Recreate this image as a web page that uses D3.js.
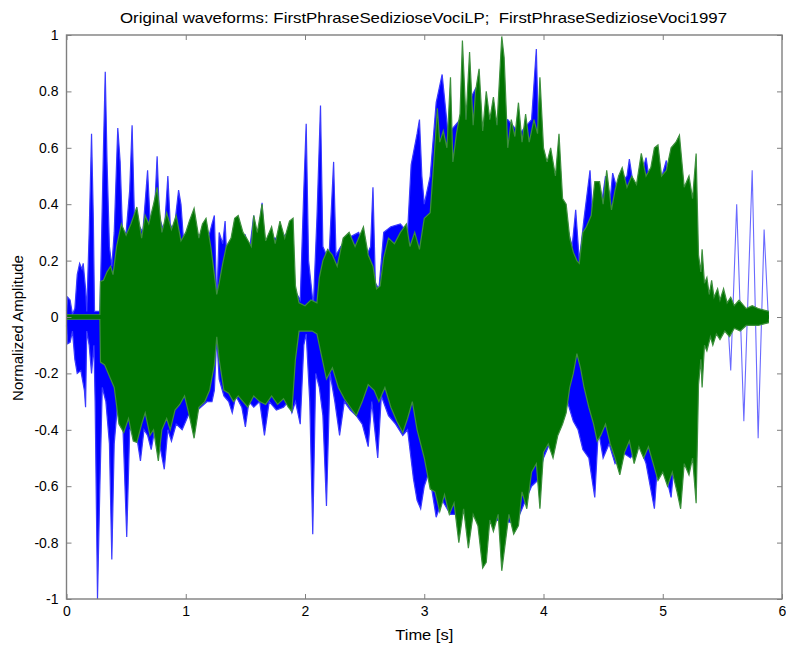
<!DOCTYPE html>
<html><head><meta charset="utf-8">
<script src="https://cdn.jsdelivr.net/npm/d3@7"></script>
<style>body{margin:0;background:#fff}svg{display:block}text{font-family:"Liberation Sans",Arial,sans-serif;fill:#000;white-space:pre}</style>
</head><body>
<svg id="c" width="786" height="646"></svg>
<script>
// ---- data (time in s, normalized amplitude) ----
const xTicks = [0,1,2,3,4,5,6];
const yTicks = [-1,-0.8,-0.6,-0.4,-0.2,0,0.2,0.4,0.6,0.8,1];
const titleText = "Original waveforms: FirstPhraseSedizioseVociLP;  FirstPhraseSedizioseVoci1997";
const xLabel = "Time [s]";
const yLabel = "Normalized Amplitude";

// LP recording (blue): upper and lower envelopes
const blueTop = [[0.00,0.02],[0.01,0.07],[0.03,0.06],[0.05,0.01],[0.07,0.03],[0.09,0.15],[0.11,0.19],[0.13,0.17],[0.14,0.19],[0.16,0.10],[0.17,0.02],[0.19,0.30],[0.21,0.65],[0.225,0.35],[0.235,0.02],[0.28,0.02],[0.29,0.20],[0.31,0.60],[0.325,0.87],[0.34,0.55],[0.36,0.25],[0.38,0.18],[0.40,0.30],[0.43,0.67],[0.45,0.55],[0.47,0.30],[0.50,0.30],[0.53,0.45],[0.55,0.68],[0.57,0.35],[0.60,0.33],[0.64,0.30],[0.68,0.52],[0.70,0.35],[0.73,0.30],[0.76,0.57],[0.78,0.35],[0.82,0.30],[0.85,0.50],[0.87,0.33],[0.90,0.30],[0.94,0.45],[0.96,0.40],[0.98,0.28],[1.05,0.30],[1.12,0.29],[1.19,0.28],[1.22,0.33],[1.24,0.36],[1.26,0.05],[1.28,0.30],[1.31,0.26],[1.33,0.34],[1.35,0.15],[1.39,0.28],[1.45,0.26],[1.50,0.29],[1.53,0.22],[1.57,0.36],[1.60,0.25],[1.64,0.405],[1.66,0.25],[1.70,0.28],[1.80,0.28],[1.86,0.30],[1.90,0.20],[1.92,0.09],[1.96,0.06],[1.99,0.45],[2.01,0.685],[2.03,0.20],[2.07,0.04],[2.10,0.35],[2.13,0.75],[2.15,0.25],[2.20,0.20],[2.24,0.55],[2.26,0.22],[2.30,0.25],[2.36,0.28],[2.45,0.30],[2.52,0.22],[2.55,0.25],[2.57,0.46],[2.59,0.12],[2.62,0.10],[2.66,0.30],[2.72,0.32],[2.80,0.33],[2.86,0.30],[2.89,0.54],[2.94,0.65],[2.96,0.70],[2.98,0.50],[3.00,0.40],[3.05,0.50],[3.10,0.76],[3.15,0.86],[3.20,0.65],[3.30,0.70],[3.43,0.81],[3.50,0.65],[3.60,0.70],[3.70,0.70],[3.80,0.65],[3.90,0.70],[3.94,0.95],[3.96,0.60],[4.00,0.55],[4.10,0.50],[4.18,0.35],[4.24,0.25],[4.27,0.38],[4.30,0.20],[4.34,0.35],[4.39,0.52],[4.42,0.30],[4.48,0.38],[4.52,0.50],[4.56,0.42],[4.58,0.51],[4.62,0.45],[4.66,0.48],[4.70,0.50],[4.72,0.56],[4.76,0.45],[4.82,0.50],[4.86,0.565],[4.90,0.45],[4.96,0.45],[5.03,0.555],[5.06,0.40],[5.12,0.45],[5.20,0.40],[5.28,0.40],[5.30,0.15],[5.35,0.08],[5.45,0.05],[5.55,0.04]];
const blueBottom = [[0.00,-0.03],[0.01,-0.095],[0.03,-0.09],[0.05,-0.05],[0.07,-0.15],[0.09,-0.20],[0.12,-0.19],[0.15,-0.26],[0.16,-0.32],[0.17,-0.05],[0.19,-0.10],[0.21,-0.20],[0.23,-0.10],[0.24,-0.30],[0.26,-1.0],[0.28,-0.60],[0.30,-0.25],[0.33,-0.30],[0.36,-0.45],[0.38,-0.86],[0.40,-0.45],[0.43,-0.30],[0.47,-0.35],[0.505,-0.78],[0.53,-0.40],[0.58,-0.40],[0.62,-0.51],[0.65,-0.40],[0.68,-0.42],[0.71,-0.47],[0.74,-0.40],[0.78,-0.45],[0.82,-0.54],[0.85,-0.40],[0.88,-0.44],[0.92,-0.38],[0.97,-0.40],[1.02,-0.35],[1.10,-0.33],[1.18,-0.30],[1.22,-0.30],[1.24,-0.26],[1.26,-0.07],[1.28,-0.22],[1.32,-0.28],[1.36,-0.30],[1.39,-0.34],[1.42,-0.28],[1.47,-0.32],[1.50,-0.39],[1.53,-0.30],[1.57,-0.32],[1.62,-0.30],[1.66,-0.42],[1.70,-0.30],[1.76,-0.33],[1.82,-0.32],[1.86,-0.30],[1.89,-0.34],[1.92,-0.30],[1.96,-0.38],[1.99,-0.10],[2.01,-0.06],[2.04,-0.30],[2.065,-0.77],[2.09,-0.20],[2.12,-0.25],[2.15,-0.35],[2.18,-0.67],[2.21,-0.20],[2.25,-0.30],[2.29,-0.42],[2.33,-0.30],[2.38,-0.33],[2.43,-0.35],[2.48,-0.38],[2.53,-0.46],[2.56,-0.30],[2.61,-0.50],[2.64,-0.28],[2.70,-0.35],[2.76,-0.38],[2.82,-0.42],[2.86,-0.40],[2.91,-0.575],[2.94,-0.65],[2.97,-0.68],[3.00,-0.60],[3.04,-0.55],[3.10,-0.71],[3.15,-0.65],[3.22,-0.70],[3.30,-0.70],[3.45,-0.68],[3.55,-0.73],[3.60,-0.72],[3.75,-0.73],[3.80,-0.70],[3.90,-0.60],[3.95,-0.58],[4.00,-0.50],[4.05,-0.45],[4.10,-0.40],[4.15,-0.35],[4.20,-0.30],[4.25,-0.37],[4.29,-0.40],[4.33,-0.47],[4.38,-0.50],[4.43,-0.64],[4.46,-0.40],[4.50,-0.50],[4.55,-0.45],[4.60,-0.52],[4.66,-0.48],[4.73,-0.50],[4.80,-0.45],[4.86,-0.52],[4.93,-0.68],[4.96,-0.50],[5.02,-0.55],[5.07,-0.64],[5.10,-0.50],[5.20,-0.45],[5.28,-0.40],[5.30,-0.15],[5.35,-0.08],[5.45,-0.05],[5.55,-0.04]];
// LP recording tail (blue), low-frequency oscillation
const blueTail = [[5.54,0.03],[5.57,-0.19],[5.62,0.40],[5.68,-0.37],[5.75,0.52],[5.80,-0.43],[5.85,0.31],[5.885,0.0]];

// 1997 recording (green): upper and lower envelopes
const greenTop = [[0.00,0.008],[0.28,0.008],[0.285,0.126],[0.31,0.13],[0.34,0.16],[0.37,0.18],[0.39,0.15],[0.42,0.25],[0.46,0.33],[0.50,0.29],[0.54,0.33],[0.59,0.39],[0.63,0.28],[0.66,0.36],[0.69,0.33],[0.73,0.40],[0.76,0.46],[0.80,0.30],[0.84,0.37],[0.88,0.31],[0.92,0.36],[0.96,0.27],[1.00,0.30],[1.03,0.34],[1.07,0.385],[1.11,0.28],[1.14,0.33],[1.17,0.35],[1.21,0.25],[1.24,0.15],[1.26,0.08],[1.28,0.12],[1.31,0.19],[1.34,0.25],[1.38,0.28],[1.41,0.35],[1.44,0.36],[1.48,0.30],[1.51,0.28],[1.55,0.25],[1.57,0.36],[1.60,0.30],[1.64,0.40],[1.67,0.27],[1.72,0.32],[1.75,0.26],[1.79,0.34],[1.83,0.28],[1.87,0.34],[1.90,0.35],[1.92,0.11],[1.95,0.05],[2.00,0.04],[2.05,0.06],[2.10,0.05],[2.12,0.14],[2.15,0.20],[2.19,0.24],[2.23,0.22],[2.27,0.18],[2.32,0.28],[2.37,0.30],[2.42,0.25],[2.49,0.32],[2.53,0.22],[2.57,0.18],[2.60,0.10],[2.63,0.11],[2.66,0.21],[2.70,0.28],[2.75,0.26],[2.80,0.30],[2.85,0.33],[2.88,0.25],[2.92,0.30],[2.96,0.24],[3.00,0.35],[3.05,0.37],[3.08,0.55],[3.11,0.74],[3.13,0.62],[3.16,0.66],[3.19,0.60],[3.22,0.85],[3.24,0.55],[3.27,0.65],[3.30,0.72],[3.32,0.98],[3.35,0.70],[3.38,0.94],[3.41,0.68],[3.43,0.80],[3.46,0.88],[3.49,0.66],[3.52,0.80],[3.55,0.70],[3.58,0.78],[3.61,0.68],[3.65,0.995],[3.67,0.92],[3.70,0.60],[3.73,0.70],[3.76,0.64],[3.79,0.76],[3.82,0.62],[3.85,0.72],[3.88,0.62],[3.92,0.70],[3.95,0.65],[3.97,0.85],[4.00,0.60],[4.03,0.55],[4.06,0.60],[4.10,0.50],[4.13,0.65],[4.16,0.42],[4.19,0.40],[4.22,0.28],[4.25,0.23],[4.28,0.20],[4.30,0.19],[4.33,0.30],[4.36,0.32],[4.40,0.36],[4.43,0.48],[4.47,0.48],[4.50,0.40],[4.53,0.52],[4.57,0.38],[4.60,0.45],[4.63,0.50],[4.66,0.53],[4.70,0.46],[4.74,0.50],[4.78,0.47],[4.82,0.58],[4.86,0.50],[4.90,0.53],[4.93,0.60],[4.96,0.61],[4.99,0.50],[5.03,0.52],[5.07,0.60],[5.11,0.62],[5.14,0.645],[5.18,0.46],[5.22,0.50],[5.25,0.42],[5.28,0.58],[5.30,0.22],[5.32,0.16],[5.33,0.24],[5.35,0.12],[5.37,0.14],[5.39,0.08],[5.41,0.13],[5.43,0.07],[5.46,0.10],[5.48,0.06],[5.51,0.10],[5.54,0.05],[5.57,0.07],[5.60,0.04],[5.64,0.06],[5.70,0.03],[5.75,0.04],[5.80,0.03],[5.89,0.02]];
const greenBottom = [[0.00,-0.008],[0.28,-0.008],[0.285,-0.16],[0.32,-0.17],[0.37,-0.22],[0.40,-0.25],[0.44,-0.38],[0.48,-0.41],[0.52,-0.36],[0.56,-0.44],[0.59,-0.445],[0.63,-0.38],[0.66,-0.34],[0.70,-0.42],[0.73,-0.40],[0.77,-0.51],[0.80,-0.40],[0.84,-0.36],[0.87,-0.40],[0.91,-0.33],[0.95,-0.31],[0.99,-0.28],[1.03,-0.35],[1.07,-0.43],[1.11,-0.32],[1.16,-0.30],[1.20,-0.26],[1.24,-0.17],[1.26,-0.07],[1.28,-0.15],[1.32,-0.26],[1.36,-0.27],[1.40,-0.30],[1.44,-0.28],[1.48,-0.30],[1.52,-0.32],[1.57,-0.28],[1.62,-0.30],[1.67,-0.31],[1.72,-0.28],[1.77,-0.31],[1.82,-0.29],[1.86,-0.32],[1.89,-0.335],[1.92,-0.15],[1.95,-0.05],[2.00,-0.05],[2.06,-0.05],[2.10,-0.06],[2.13,-0.12],[2.18,-0.22],[2.23,-0.18],[2.28,-0.25],[2.33,-0.29],[2.38,-0.32],[2.43,-0.35],[2.48,-0.30],[2.53,-0.24],[2.58,-0.26],[2.62,-0.30],[2.67,-0.25],[2.72,-0.32],[2.77,-0.37],[2.82,-0.41],[2.86,-0.36],[2.90,-0.30],[2.94,-0.40],[2.97,-0.45],[3.00,-0.50],[3.05,-0.61],[3.09,-0.62],[3.13,-0.69],[3.17,-0.63],[3.21,-0.70],[3.25,-0.66],[3.29,-0.80],[3.33,-0.68],[3.37,-0.82],[3.41,-0.70],[3.45,-0.74],[3.49,-0.89],[3.52,-0.87],[3.55,-0.72],[3.58,-0.76],[3.62,-0.70],[3.65,-0.90],[3.68,-0.80],[3.71,-0.70],[3.75,-0.77],[3.79,-0.74],[3.82,-0.62],[3.86,-0.68],[3.90,-0.55],[3.94,-0.52],[3.97,-0.68],[4.00,-0.48],[4.04,-0.45],[4.08,-0.50],[4.12,-0.42],[4.16,-0.38],[4.19,-0.34],[4.22,-0.25],[4.25,-0.20],[4.28,-0.13],[4.31,-0.18],[4.34,-0.25],[4.38,-0.32],[4.42,-0.38],[4.45,-0.44],[4.48,-0.42],[4.52,-0.38],[4.56,-0.45],[4.60,-0.50],[4.64,-0.56],[4.68,-0.48],[4.72,-0.44],[4.76,-0.52],[4.80,-0.46],[4.84,-0.50],[4.88,-0.46],[4.92,-0.52],[4.96,-0.58],[5.00,-0.55],[5.04,-0.60],[5.08,-0.55],[5.12,-0.62],[5.15,-0.68],[5.18,-0.52],[5.22,-0.56],[5.25,-0.50],[5.28,-0.66],[5.30,-0.24],[5.32,-0.15],[5.33,-0.25],[5.35,-0.10],[5.37,-0.12],[5.40,-0.07],[5.42,-0.10],[5.45,-0.06],[5.48,-0.08],[5.52,-0.05],[5.56,-0.07],[5.60,-0.04],[5.65,-0.05],[5.70,-0.03],[5.80,-0.03],[5.89,-0.02]];

const blueColor = "#0000ff";
const greenColor = "#007300";

// ---- drawing ----
const svg = d3.select("#c");
const L = 66.5, R = 782, T = 35, B = 599;
const x = d3.scaleLinear().domain([0, 6]).range([L, R]);
const y = d3.scaleLinear().domain([-1, 1]).range([B, T]);

const plot = svg.append("g");
function env(data, color, fringe) {
  const a = d3.area().x(d => x(d[0])).y0(y(0)).y1(d => y(d[1]));
  const ln = d3.line().x(d => x(d[0])).y(d => y(d[1]));
  plot.append("path").datum(data).attr("d", a).attr("fill", color).attr("stroke", "none");
  plot.append("path").datum(data).attr("d", ln)
    .attr("fill", "none").attr("stroke", fringe).attr("stroke-width", 1.2).attr("stroke-linejoin", "miter");
}
env(blueTop, blueColor, "#3a3aff");
env(blueBottom, blueColor, "#3a3aff");
plot.append("path").datum(blueTail)
  .attr("d", d3.line().x(d => x(d[0])).y(d => y(d[1])))
  .attr("fill", "none").attr("stroke", "#6a6aff").attr("stroke-width", 1.1);
env(greenTop, greenColor, "#3c8f3c");
env(greenBottom, greenColor, "#3c8f3c");
// fill the zero seam between upper and lower green halves
plot.append("path").datum(greenTop)
  .attr("d", d3.area().x(d => x(d[0])).y0(y(-0.006)).y1(y(0.006)))
  .attr("fill", greenColor);

// axes
const fmt = d => String(+(+d).toFixed(1));
const axCol = "#7f7f7f";
const gx = svg.append("g").attr("transform", `translate(0,${B})`)
  .call(d3.axisBottom(x).tickValues(xTicks).tickFormat(fmt).tickSizeInner(-5).tickSizeOuter(0).tickPadding(7));
const gxt = svg.append("g").attr("transform", `translate(0,${T})`)
  .call(d3.axisTop(x).tickValues(xTicks).tickFormat("").tickSizeInner(-5).tickSizeOuter(0));
const gy = svg.append("g").attr("transform", `translate(${L},0)`)
  .call(d3.axisLeft(y).tickValues(yTicks).tickFormat(fmt).tickSizeInner(-5).tickSizeOuter(0).tickPadding(8));
const gyr = svg.append("g").attr("transform", `translate(${R},0)`)
  .call(d3.axisRight(y).tickValues(yTicks).tickFormat("").tickSizeInner(-5).tickSizeOuter(0));
[gx, gxt, gy, gyr].forEach(g => {
  g.select(".domain").remove();
  g.selectAll(".tick line").attr("stroke", axCol).attr("stroke-width", 1);
  g.selectAll(".tick text").attr("font-size", 14).attr("font-family", '"Liberation Sans", Arial, sans-serif').attr("fill", "#000");
});
svg.append("rect").attr("x", L).attr("y", T).attr("width", R - L).attr("height", B - T)
  .attr("fill", "none").attr("stroke", axCol).attr("stroke-width", 1.4);

// titles
svg.append("text").attr("x", 120).attr("y", 23)
  .attr("font-size", 15).attr("textLength", 607).attr("lengthAdjust", "spacingAndGlyphs").text(titleText);
svg.append("text").attr("transform", `translate(${(L + R) / 2},640) scale(1.1,1)`).attr("text-anchor", "middle")
  .attr("font-size", 15).text(xLabel);
svg.append("text").attr("transform", `translate(23,${(T + B) / 2 + 11}) rotate(-90)`).attr("text-anchor", "middle")
  .attr("font-size", 15).text(yLabel);
</script>
</body></html>
